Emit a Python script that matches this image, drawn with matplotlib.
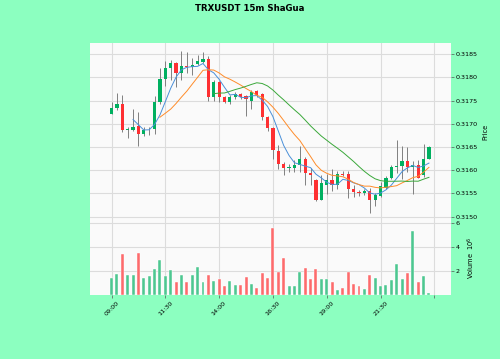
import matplotlib
matplotlib.use('Agg')
import matplotlib.pyplot as plt
import pandas as pd
import numpy as np

# 15m candles, TRXUSDT, starting 09:00
opens = [0.31722, 0.31733, 0.31743, 0.31687, 0.31687, 0.31696, 0.31677, 0.31688, 0.31689, 0.31747,
         0.31796, 0.31820, 0.31832, 0.31809, 0.31824, 0.31822, 0.31829, 0.31834, 0.31840, 0.31758,
         0.31789, 0.31758, 0.31748, 0.31757, 0.31764, 0.31760, 0.31750, 0.31770, 0.31764, 0.31714,
         0.31690, 0.31642, 0.31613, 0.31605, 0.31605, 0.31612, 0.31625, 0.31594, 0.31578, 0.31536,
         0.31567, 0.31579, 0.31569, 0.31592, 0.31591, 0.31560, 0.31553, 0.31550, 0.31555, 0.31536,
         0.31544, 0.31562, 0.31584, 0.31606, 0.31608, 0.31619, 0.31607, 0.31610, 0.31589, 0.31625]
highs = [0.31748, 0.31766, 0.31763, 0.31692, 0.31732, 0.31725, 0.31693, 0.31692, 0.31759, 0.31820,
         0.31835, 0.31838, 0.31833, 0.31857, 0.31854, 0.31841, 0.31848, 0.31855, 0.31847, 0.31795,
         0.31793, 0.31760, 0.31763, 0.31769, 0.31767, 0.31763, 0.31773, 0.31772, 0.31767, 0.31717,
         0.31694, 0.31655, 0.31617, 0.31614, 0.31621, 0.31652, 0.31629, 0.31605, 0.31580, 0.31589,
         0.31591, 0.31602, 0.31598, 0.31599, 0.31598, 0.31567, 0.31557, 0.31559, 0.31561, 0.31551,
         0.31574, 0.31587, 0.31610, 0.31664, 0.31652, 0.31649, 0.31619, 0.31621, 0.31657, 0.31651]
lows = [0.31720, 0.31730, 0.31682, 0.31670, 0.31685, 0.31652, 0.31673, 0.31675, 0.31677, 0.31743,
        0.31782, 0.31795, 0.31780, 0.31795, 0.31809, 0.31805, 0.31827, 0.31831, 0.31750, 0.31750,
        0.31746, 0.31745, 0.31743, 0.31754, 0.31754, 0.31717, 0.31732, 0.31758, 0.31709, 0.31685,
        0.31625, 0.31602, 0.31589, 0.31597, 0.31595, 0.31595, 0.31569, 0.31568, 0.31534, 0.31535,
        0.31548, 0.31555, 0.31559, 0.31587, 0.31539, 0.31543, 0.31544, 0.31546, 0.31507, 0.31523,
        0.31543, 0.31559, 0.31580, 0.31594, 0.31581, 0.31595, 0.31548, 0.31582, 0.31585, 0.31624]
closes = [0.31734, 0.31743, 0.31687, 0.31688, 0.31694, 0.31677, 0.31687, 0.31689, 0.31746, 0.31796,
          0.31820, 0.31832, 0.31809, 0.31825, 0.31823, 0.31827, 0.31835, 0.31840, 0.31758, 0.31789,
          0.31758, 0.31748, 0.31758, 0.31764, 0.31758, 0.31753, 0.31768, 0.31761, 0.31715, 0.31690,
          0.31643, 0.31613, 0.31605, 0.31607, 0.31612, 0.31625, 0.31594, 0.31589, 0.31536, 0.31572,
          0.31579, 0.31569, 0.31592, 0.31589, 0.31560, 0.31553, 0.31550, 0.31555, 0.31536, 0.31546,
          0.31566, 0.31584, 0.31606, 0.31609, 0.31619, 0.31607, 0.31610, 0.31584, 0.31625, 0.31650]
# volume in millions
volumes = [1.41, 1.72, 3.38, 1.66, 1.66, 3.52, 1.46, 1.61, 2.14, 2.93,
           1.58, 2.08, 1.13, 1.63, 1.13, 1.63, 2.37, 1.13, 1.69, 1.18,
           1.30, 0.79, 1.21, 0.82, 0.87, 1.52, 0.96, 0.56, 1.83, 1.44,
           5.55, 1.89, 3.07, 0.76, 0.79, 1.89, 2.23, 1.30, 2.14, 1.30,
           1.35, 1.07, 0.45, 0.59, 1.89, 0.90, 0.73, 0.48, 1.63, 1.41,
           0.73, 0.85, 1.24, 2.56, 1.30, 1.83, 5.30, 1.07, 1.58, 0.14]

df = pd.DataFrame({'open': opens, 'high': highs, 'low': lows, 'close': closes, 'volume': volumes},
                  index=pd.date_range('2023-05-10 09:00', periods=len(opens), freq='15min'))

up_c, down_c = '#00b060', '#fe3032'
vol_up, vol_down = '#4dc790', '#fd6b6c'
wick_c = '#808080'
grid_c = '#dcdcdc'

fig = plt.figure(figsize=(5, 3.59), dpi=100, facecolor='#8cffc0')
ax = fig.add_axes([0.18, 0.384, 0.722, 0.496])
axv = fig.add_axes([0.18, 0.178, 0.722, 0.206], sharex=ax)

x = np.arange(len(df))
up = df['close'] >= df['open']
colors = np.where(up, up_c, down_c)

ax.vlines(x, df['low'], df['high'], color=wick_c, linewidth=0.7, zorder=2)
bottom = np.minimum(df['open'], df['close'])
height = np.abs(df['close'] - df['open'])
height = np.maximum(height, 0.000012)
ax.bar(x, height, 0.6, bottom=bottom, color=colors, linewidth=0, zorder=3)

for n, c in zip([5, 10, 20], ['#4a90d9', '#ff8c2a', '#3aa83a']):
    ax.plot(x, df['close'].rolling(n).mean(), color=c, linewidth=0.7, zorder=4)

axv.bar(x, df['volume'], 0.55, color=np.where(up, vol_up, vol_down),
        edgecolor='#ffffff', linewidth=0.3, zorder=3)

for a in (ax, axv):
    a.set_facecolor('#fafafa')
    for s in a.spines.values():
        s.set_visible(False)
    a.grid(True, color=grid_c, linewidth=0.8, zorder=0)
    a.set_axisbelow(True)
    a.yaxis.tick_right()
    a.yaxis.set_label_position('right')
    a.tick_params(labelsize=4.6, length=2, width=0.5, color='#555555', pad=1.5)

ax.set_xlim(-4.0, 63.1)
ax.set_ylim(0.31490, 0.31874)
ax.set_yticks(np.arange(0.3150, 0.31851, 0.0005))
ax.set_yticklabels(['%.4f' % v for v in np.arange(0.3150, 0.31851, 0.0005)])
ax.set_ylabel('Price', fontsize=4.8, labelpad=3)
plt.setp(ax.get_xticklabels(), visible=False)

axv.set_ylim(0, 6.15)
axv.set_yticks([2, 4, 6])
axv.set_ylabel('Volume  $10^{6}$', fontsize=4.8, labelpad=4)

ticks = np.arange(0, 61, 10)
labels = [df.index[i].strftime('%H:%M') if i < len(df) else '' for i in ticks]
axv.set_xticks(ticks)
axv.set_xticklabels(labels, rotation=45, ha='center')

fig.suptitle('TRXUSDT 15m ShaGua', fontsize=6.2, fontweight='bold', y=0.99)

plt.savefig('out.png', dpi=100, facecolor=fig.get_facecolor())
